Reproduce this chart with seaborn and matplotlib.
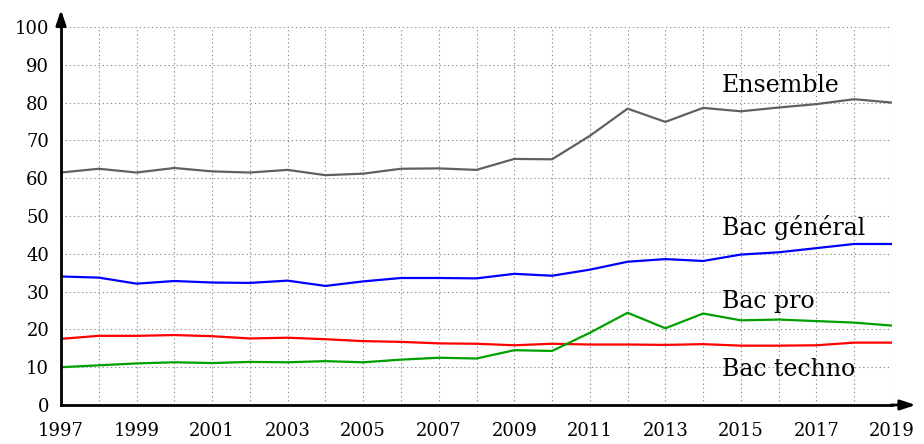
import numpy as np
import pandas as pd
import seaborn as sns
import matplotlib.pyplot as plt

annees = list(range(1997, 2020))
ensemble = [61.5, 62.5, 61.5, 62.7, 61.8, 61.5, 62.2, 60.8, 61.2, 62.5, 62.6, 62.2,
            65.1, 65.0, 71.2, 78.4, 74.9, 78.6, 77.7, 78.7, 79.6, 80.9, 80.0]
bac_general = [34.0, 33.7, 32.1, 32.8, 32.4, 32.3, 32.9, 31.5, 32.7, 33.6, 33.6, 33.5,
               34.7, 34.2, 35.8, 37.9, 38.6, 38.1, 39.8, 40.4, 41.5, 42.6, 42.6]
bac_techno = [17.5, 18.3, 18.3, 18.5, 18.2, 17.6, 17.8, 17.4, 16.9, 16.7, 16.3, 16.2,
              15.8, 16.2, 16.0, 16.0, 15.9, 16.1, 15.7, 15.7, 15.8, 16.5, 16.5]
bac_pro = [10.0, 10.5, 11.0, 11.3, 11.1, 11.4, 11.3, 11.6, 11.3, 12.0, 12.5, 12.3,
           14.5, 14.3, 19.1, 24.4, 20.3, 24.2, 22.4, 22.6, 22.2, 21.8, 21.0]

series = {'Ensemble': ensemble, 'Bac général': bac_general,
          'Bac techno': bac_techno, 'Bac pro': bac_pro}
couleurs = {'Ensemble': '#606060', 'Bac général': '#0000ff',
            'Bac techno': '#ff0000', 'Bac pro': '#00a000'}
# position des étiquettes (année, valeur)
etiquettes = {'Ensemble': (2014.5, 84.5), 'Bac général': (2014.5, 47.0),
              'Bac pro': (2014.5, 27.5), 'Bac techno': (2014.5, 9.5)}

df = pd.DataFrame({'annee': annees * 4,
                   'valeur': ensemble + bac_general + bac_techno + bac_pro,
                   'serie': sum([[k] * len(annees) for k in series], [])})

sns.set_style('white')
plt.rcParams['font.family'] = ['DejaVu Serif']

fig = plt.figure(figsize=(9.24, 4.44), dpi=100)
ax = fig.add_axes([61 / 924, 39 / 444, 831 / 924, 378 / 444])

sns.lineplot(data=df, x='annee', y='valeur', hue='serie', palette=couleurs,
             linewidth=1.6, legend=False, ax=ax)

ax.set_xlim(1997, 2019)
ax.set_ylim(0, 100)
ax.set_xticks(range(1997, 2020, 2))
ax.set_xticks(range(1997, 2020), minor=True)
ax.set_yticks(range(0, 101, 10))
ax.set_yticks(range(0, 101, 5), minor=True)
grille = dict(linestyle=(0, (1.2, 2.5)), color='#909090', linewidth=0.8)
ax.grid(True, which='both', axis='x', **grille)
ax.grid(True, which='major', axis='y', **grille)
ax.set_xlabel('')
ax.set_ylabel('')
ax.tick_params(axis='both', which='major', direction='inout', length=7, width=1, labelsize=13, colors='black')
ax.tick_params(axis='x', which='minor', length=0)
ax.tick_params(axis='y', which='minor', direction='inout', length=5, width=0.8, colors='black')
ax.tick_params(axis='x', pad=9)
ax.tick_params(axis='y', pad=5)

for s in ['top', 'right']:
    ax.spines[s].set_visible(False)
for s in ['left', 'bottom']:
    ax.spines[s].set_linewidth(2)
    ax.spines[s].set_color('black')

# flèches des axes
ax.annotate('', xy=(2019.7, 0), xytext=(2018.9, 0), xycoords='data',
            arrowprops=dict(arrowstyle='-|>,head_length=0.9,head_width=0.3', color='black', lw=2),
            annotation_clip=False)
ax.annotate('', xy=(1997, 105.3), xytext=(1997, 99), xycoords='data',
            arrowprops=dict(arrowstyle='-|>,head_length=0.9,head_width=0.3', color='black', lw=2),
            annotation_clip=False)

for nom, (x, y) in etiquettes.items():
    ax.text(x, y, nom, fontsize=17, va='center', ha='left', color='black')

fig.savefig('out.png', dpi=100)
